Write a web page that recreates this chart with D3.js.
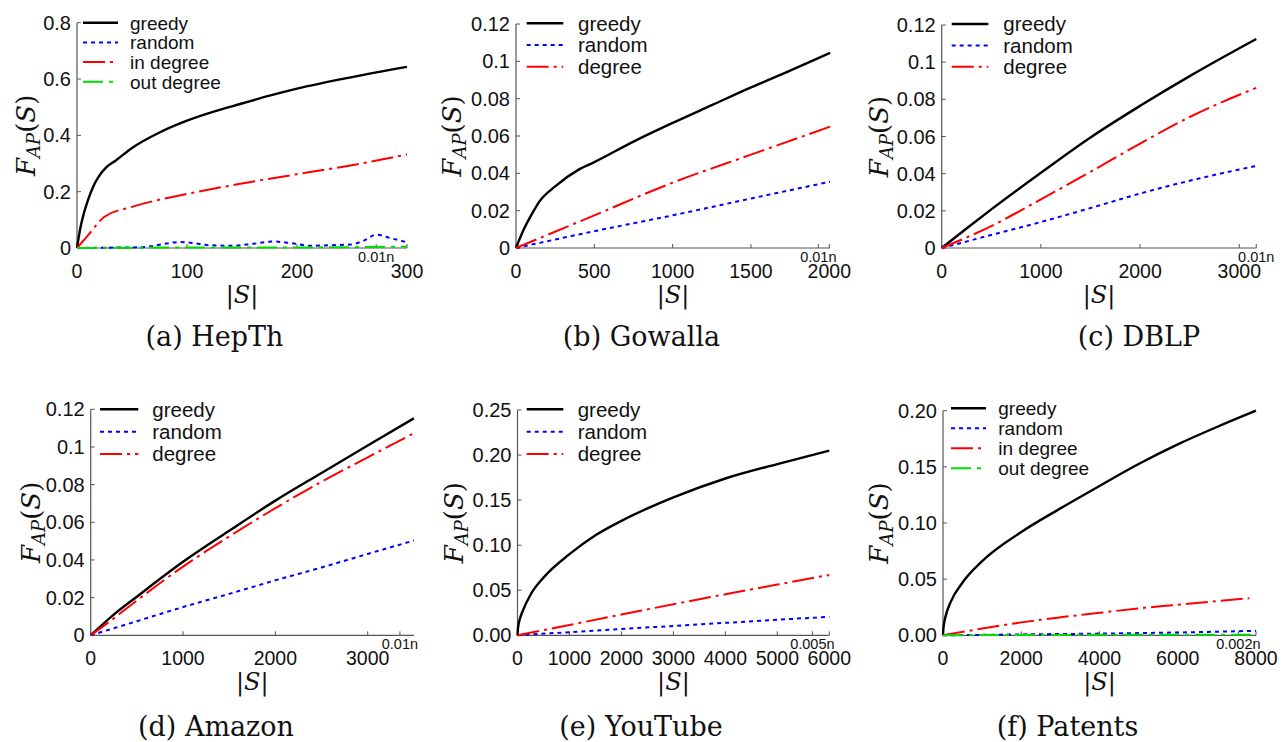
<!DOCTYPE html>
<html><head><meta charset="utf-8">
<script src="https://cdn.jsdelivr.net/npm/d3@7/dist/d3.min.js"></script>
<style>body{margin:0;background:#fff}</style>
</head><body>
<svg id="c" width="1281" height="742" xmlns="http://www.w3.org/2000/svg"></svg>
<script>
// ---------------- DATA ----------------
const captions = ["(a) HepTh", "(b) Gowalla", "(c) DBLP", "(d) Amazon", "(e) YouTube", "(f) Patents"];
const names4 = ["greedy", "random", "in degree", "out degree"];
const names3 = ["greedy", "random", "degree"];
const nTickLabels = ["0.01n", "0.01n", "0.01n", "0.01n", "0.005n", "0.002n"];
const nTickValues = [272, 1930, 3171, 3349, 5674, 7550];

const xTicksA = [0, 100, 200, 300];
const xTicksB = [0, 500, 1000, 1500, 2000];
const xTicksC = [0, 1000, 2000, 3000];
const xTicksD = [0, 1000, 2000, 3000];
const xTicksE = [0, 1000, 2000, 3000, 4000, 5000, 6000];
const xTicksF = [0, 2000, 4000, 6000, 8000];
const yTicksA = [0, 0.2, 0.4, 0.6, 0.8];
const yTicksBCD = [0, 0.02, 0.04, 0.06, 0.08, 0.1, 0.12];
const yTicksE = [0, 0.05, 0.10, 0.15, 0.20, 0.25];
const yTicksF = [0, 0.05, 0.10, 0.15, 0.20];

// (a) HepTh
const hepthGreedy = [[0,0],[3,0.07],[6,0.12],[10,0.17],[15,0.22],[20,0.255],[27,0.288],[35,0.31],[50,0.355],[75,0.41],[100,0.452],[125,0.485],[150,0.513],[175,0.541],[200,0.566],[250,0.607],[300,0.643]];
const hepthRandom = [[0,0],[20,0.001],[50,0.002],[65,0.005],[80,0.015],[92,0.021],[105,0.018],[120,0.01],[140,0.008],[160,0.015],[178,0.023],[195,0.017],[212,0.008],[230,0.01],[248,0.012],[260,0.025],[272,0.047],[285,0.035],[300,0.02]];
const hepthIn = [[0,0],[10,0.045],[25,0.111],[50,0.146],[100,0.192],[150,0.229],[200,0.262],[250,0.294],[300,0.332]];
const hepthOut = [[0,0],[50,0.001],[100,0.002],[150,0.002],[200,0.002],[250,0.003],[300,0.005]];
// (b) Gowalla
const gowallaGreedy = [[0,0],[50,0.01],[100,0.018],[150,0.025],[250,0.033],[400,0.042],[500,0.046],[750,0.057],[1000,0.067],[1250,0.0765],[1500,0.086],[1750,0.095],[2005,0.1045]];
const gowallaRandom = [[0,0],[500,0.009],[1000,0.0175],[1500,0.0265],[2005,0.0355]];
const gowallaDegree = [[0,0],[500,0.0175],[1000,0.035],[1500,0.05],[2005,0.065]];
// (c) DBLP
const dblpGreedy = [[0,0],[250,0.0105],[500,0.0208],[1000,0.0405],[1500,0.0595],[2000,0.0765],[2500,0.0925],[3000,0.1075],[3171,0.1125]];
const dblpRandom = [[0,0],[500,0.007],[1000,0.014],[1500,0.0215],[2000,0.0293],[2500,0.0362],[3171,0.0442]];
const dblpDegree = [[0,0],[500,0.0118],[1000,0.0262],[1500,0.041],[2000,0.0562],[2500,0.0705],[3171,0.0862]];
// (d) Amazon
const amazonGreedy = [[0,0],[250,0.011],[500,0.0205],[1000,0.039],[1500,0.0555],[2000,0.0715],[2500,0.0862],[3000,0.1008],[3500,0.1152]];
const amazonRandom = [[0,0],[500,0.0075],[1000,0.015],[1500,0.022],[2000,0.0292],[2500,0.036],[3000,0.0432],[3500,0.0503]];
const amazonDegree = [[0,0],[250,0.009],[500,0.0185],[1000,0.0365],[1500,0.0525],[2000,0.0675],[2500,0.0815],[3000,0.0945],[3500,0.1073]];
// (e) YouTube
const youtubeGreedy = [[0,0],[10,0.008],[20,0.012],[50,0.019],[100,0.027],[250,0.045],[500,0.064],[1000,0.09],[1500,0.111],[2000,0.127],[3000,0.153],[4000,0.174],[5000,0.19],[6000,0.205]];
const youtubeRandom = [[0,0],[1000,0.0035],[2000,0.007],[3000,0.0104],[4000,0.0138],[5000,0.0172],[6000,0.0207]];
const youtubeDegree = [[0,0],[1000,0.0115],[2000,0.023],[3000,0.0345],[4000,0.0455],[5000,0.0563],[6000,0.067]];
// (f) Patents
const patentsGreedy = [[0,0],[10,0.006],[25,0.010],[50,0.0145],[100,0.021],[200,0.03],[500,0.047],[1000,0.066],[2000,0.092],[3000,0.113],[4000,0.133],[5000,0.1525],[6000,0.170],[7000,0.1855],[8000,0.2]];
const patentsRandom = [[0,0],[2000,0.0008],[4000,0.0015],[6000,0.0025],[8000,0.004]];
const patentsIn = [[0,0],[1000,0.006],[2000,0.0115],[3000,0.016],[4000,0.02],[5000,0.024],[6000,0.0272],[7000,0.0305],[7830,0.033]];
const patentsOut = [[0,0],[2000,0.0003],[4000,0.0004],[6000,0.0005],[8000,0.0006]];

// ---------------- STYLE ----------------
const seriesStyle = {
  "greedy":     {color: "#000000", dash: null, width: 2.4},
  "random":     {color: "#0000ff", dash: "4,4", width: 2},
  "in degree":  {color: "#ff0000", dash: "22,5,3,5", width: 2},
  "degree":     {color: "#ff0000", dash: "22,5,3,5", width: 2},
  "out degree": {color: "#00dd00", dash: "20,6,4,6", width: 2}
};

// ---------------- LAYOUT ----------------
const panels = [
  {cap: captions[0], names: names4, data: [hepthGreedy, hepthRandom, hepthIn, hepthOut], xt: xTicksA, yt: yTicksA, fmt: d => String(+d.toFixed(2)),
   xr: [77, 407], xd: [0, 300], xEnd: 300, yr: [248, 22.7], yd: [0, 0.8], ylx: 35, capX: 214.5, capY: 346,
   leg: {x0: 83, x1: 118, tx: 130, y0: 22.7, dy: 19.7, fs: 19}, nt: 0},
  {cap: captions[1], names: names3, data: [gowallaGreedy, gowallaRandom, gowallaDegree], xt: xTicksB, yt: yTicksBCD, fmt: d => String(+d.toFixed(2)),
   xr: [516, 829.3], xd: [0, 2000], xEnd: 2005, yr: [248, 24], yd: [0, 0.12], ylx: 461, capX: 641.5, capY: 346,
   leg: {x0: 526.7, x1: 563.3, tx: 578, y0: 23.3, dy: 21.7, fs: 20.5}, nt: 1},
  {cap: captions[2], names: names3, data: [dblpGreedy, dblpRandom, dblpDegree], xt: xTicksC, yt: yTicksBCD, fmt: d => String(+d.toFixed(2)),
   xr: [941.7, 1239.3], xd: [0, 3000], xEnd: 3171, yr: [248, 25], yd: [0, 0.12], ylx: 888, capX: 1139, capY: 346,
   leg: {x0: 951.7, x1: 988.3, tx: 1003.3, y0: 24, dy: 21.4, fs: 20.5}, nt: 2},
  {cap: captions[3], names: names3, data: [amazonGreedy, amazonRandom, amazonDegree], xt: xTicksD, yt: yTicksBCD, fmt: d => String(+d.toFixed(2)),
   xr: [90.7, 367.7], xd: [0, 3000], xEnd: 3500, yr: [635.3, 409.3], yd: [0, 0.12], ylx: 40, capX: 216, capY: 736,
   leg: {x0: 100, x1: 138.3, tx: 152.3, y0: 409.3, dy: 22.4, fs: 20.5}, nt: 3},
  {cap: captions[4], names: names3, data: [youtubeGreedy, youtubeRandom, youtubeDegree], xt: xTicksE, yt: yTicksE, fmt: d => d.toFixed(2),
   xr: [517.5, 829.3], xd: [0, 6000], xEnd: 6000, yr: [635.3, 410], yd: [0, 0.25], ylx: 463, capX: 641, capY: 736,
   leg: {x0: 526.7, x1: 563.3, tx: 577.7, y0: 409.3, dy: 22.4, fs: 20.5}, nt: 4},
  {cap: captions[5], names: names4, data: [patentsGreedy, patentsRandom, patentsIn, patentsOut], xt: xTicksF, yt: yTicksF, fmt: d => d.toFixed(2),
   xr: [943, 1256], xd: [0, 8000], xEnd: 8000, yr: [635.3, 410.7], yd: [0, 0.2], ylx: 888, capX: 1067.5, capY: 736,
   leg: {x0: 951, x1: 986, tx: 998.3, y0: 408.3, dy: 20, fs: 19}, nt: 5}
];

const svg = d3.select("#c");
const SANS = "'Liberation Sans', Arial, Helvetica, sans-serif";
const SERIF = "'DejaVu Serif', 'Liberation Serif', serif";
const axisColor = "#555";

panels.forEach(p => {
  const x = d3.scaleLinear().domain(p.xd).range(p.xr);
  const y = d3.scaleLinear().domain(p.yd).range(p.yr);
  const g = svg.append("g");
  const x0 = x(0), yb = y(0), xe = x(p.xEnd), yTop = y(p.yd[1]);

  // axes lines
  g.append("line").attr("x1", x0).attr("x2", xe).attr("y1", yb).attr("y2", yb).attr("stroke", axisColor).attr("stroke-width", 1.2);
  g.append("line").attr("x1", x0).attr("x2", x0).attr("y1", yb).attr("y2", yTop).attr("stroke", axisColor).attr("stroke-width", 1.2);

  // x ticks (inward)
  p.xt.forEach(t => {
    g.append("line").attr("x1", x(t)).attr("x2", x(t)).attr("y1", yb).attr("y2", yb - 4).attr("stroke", axisColor).attr("stroke-width", 1);
    g.append("text").attr("x", x(t)).attr("y", yb + 30).attr("text-anchor", "middle")
      .attr("font-family", SANS).attr("font-size", 19.5).attr("fill", "#111").text(t);
  });
  // n tick
  const nv = nTickValues[p.nt];
  g.append("line").attr("x1", x(nv)).attr("x2", x(nv)).attr("y1", yb).attr("y2", yb - 4).attr("stroke", axisColor).attr("stroke-width", 1);
  g.append("text").attr("x", x(nv)).attr("y", yb + 13.5).attr("text-anchor", "middle")
    .attr("font-family", SANS).attr("font-size", 14.5).attr("fill", "#111").text(nTickLabels[p.nt]);

  // y ticks
  p.yt.forEach(t => {
    g.append("line").attr("x1", x0).attr("x2", x0 + 4).attr("y1", y(t)).attr("y2", y(t)).attr("stroke", axisColor).attr("stroke-width", 1);
    g.append("text").attr("x", x0 - 6).attr("y", y(t) + 7).attr("text-anchor", "end")
      .attr("font-family", SANS).attr("font-size", 20).attr("fill", "#111").text(p.fmt(t));
  });

  // series lines
  const line = d3.line().x(d => x(d[0])).y(d => y(d[1])).curve(d3.curveMonotoneX);
  p.names.forEach((nm, i) => {
    const st = seriesStyle[nm];
    g.append("path").datum(p.data[i]).attr("d", line).attr("fill", "none")
      .attr("stroke", st.color).attr("stroke-width", st.width)
      .attr("stroke-dasharray", st.dash).attr("stroke-linejoin", "round");
  });
  // legend
  p.names.forEach((nm, i) => {
    const st = seriesStyle[nm];
    const ly = p.leg.y0 + i * p.leg.dy;
    g.append("line").attr("x1", p.leg.x0).attr("x2", p.leg.x1).attr("y1", ly).attr("y2", ly)
      .attr("stroke", st.color).attr("stroke-width", st.width).attr("stroke-dasharray", st.dash);
    g.append("text").attr("x", p.leg.tx).attr("y", ly + p.leg.fs * 0.36).attr("font-family", SANS)
      .attr("font-size", p.leg.fs).attr("fill", "#111").text(nm);
  });

  // x label |S|
  const xl = g.append("text").attr("x", (x0 + xe) / 2).attr("y", yb + 55).attr("text-anchor", "middle")
    .attr("font-family", SERIF).attr("font-size", 24).attr("fill", "#111");
  xl.append("tspan").text("|");
  xl.append("tspan").attr("font-style", "italic").text("S");
  xl.append("tspan").text("|");

  // y label F_AP(S)
  const cy = (yb + yTop) / 2;
  const yl = g.append("text").attr("transform", `translate(${p.ylx},${cy}) rotate(-90)`).attr("text-anchor", "middle")
    .attr("font-family", SERIF).attr("font-size", 26).attr("fill", "#111");
  yl.append("tspan").attr("font-style", "italic").text("F");
  yl.append("tspan").attr("font-style", "italic").attr("font-size", 18).attr("dy", 5).text("AP");
  yl.append("tspan").attr("dy", -5).text("(");
  yl.append("tspan").attr("font-style", "italic").text("S");
  yl.append("tspan").text(")");

  // caption
  g.append("text").attr("x", p.capX).attr("y", p.capY).attr("text-anchor", "middle")
    .attr("font-family", SERIF).attr("font-size", 27).attr("fill", "#111").text(p.cap);
});
</script>
</body></html>
